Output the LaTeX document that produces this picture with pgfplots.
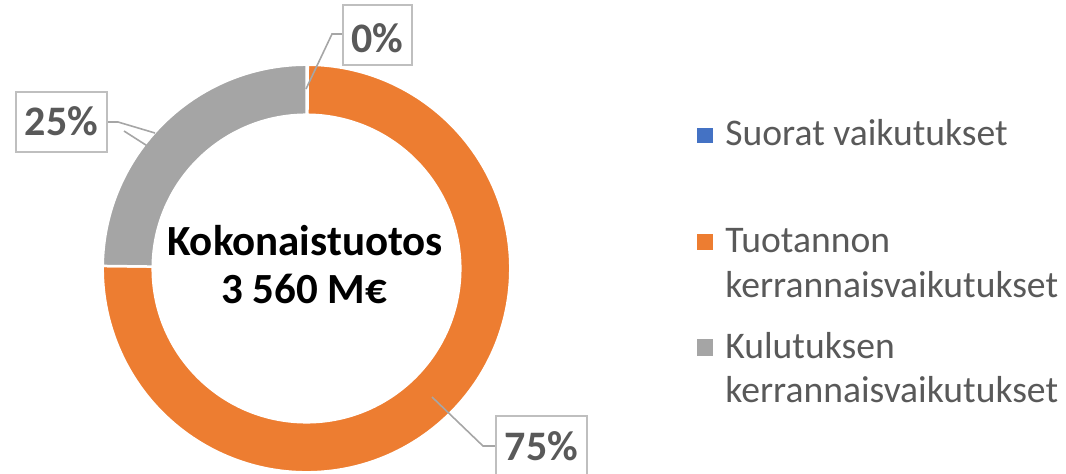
\documentclass[border=0pt]{standalone}
\usepackage{pgfplots}
\pgfplotsset{compat=1.18}
\usepackage{pgfplotstable}
\usepackage{fontspec}
\setmainfont{Carlito}
\definecolor{cblue}{HTML}{4472C4}
\definecolor{corange}{HTML}{ED7D31}
\definecolor{cgray}{HTML}{A5A5A5}
\definecolor{ctext}{HTML}{595959}
\definecolor{cbox}{HTML}{BFBFBF}
\definecolor{cline}{HTML}{A6A6A6}

% shares of the total output (per cent)
\pgfplotstableread{
idx share
0 0.1
1 75.1
2 24.8
}\donutdata
\pgfplotstablegetelem{0}{share}\of\donutdata\let\vA\pgfplotsretval
\pgfplotstablegetelem{1}{share}\of\donutdata\let\vB\pgfplotsretval
\pgfplotstablegetelem{2}{share}\of\donutdata\let\vC\pgfplotsretval
\pgfmathsetmacro\aA{90}
\pgfmathsetmacro\aB{\aA-3.6*\vA}
\pgfmathsetmacro\aC{\aB-3.6*\vB}
\pgfmathsetmacro\aD{\aC-3.6*\vC}
\def\Ro{101.9pt}
\def\Ri{76.9pt}
\newcommand\slice[3]{%
  \fill[#3, draw=white, line width=1.25pt]
    ([shift={(#1:\Ro)}]axis cs:306.5,204.5) arc[start angle=#1, end angle=#2, radius=\Ro]
    -- ([shift={(#2:\Ri)}]axis cs:306.5,204.5) arc[start angle=#2, end angle=#1, radius=\Ri] -- cycle;}

\begin{document}
\begin{tikzpicture}
\useasboundingbox (0,0) rectangle (533pt,236.5pt);
\begin{axis}[
  at={(0,0)}, anchor=south west,
  width=533pt, height=236.5pt, scale only axis,
  xmin=0, xmax=1066, ymin=0, ymax=473,
  hide axis, clip=false,
]
\slice{\aA}{\aB}{cblue}
\slice{\aB}{\aC}{corange}
\slice{\aC}{\aD}{cgray}

% centre text
\node[anchor=base, font=\bfseries\fontsize{21.5}{24}\selectfont] at (axis cs:305,218) {Kokonaistuotos};
\node[anchor=base, font=\bfseries\fontsize{21.5}{24}\selectfont] at (axis cs:304,170) {3 560 M€};

% leader lines
\draw[cline, line width=0.8pt] (axis cs:306,384) -- (axis cs:332,439) -- (axis cs:343,439);
\draw[cline, line width=0.8pt] (axis cs:107,351) -- (axis cs:118,351) -- (axis cs:155,340);
\draw[cline, line width=0.8pt] (axis cs:124,342) -- (axis cs:149,326);
\draw[cline, line width=0.8pt] (axis cs:432,76) -- (axis cs:483,27) -- (axis cs:496,27);

% data labels
\draw[cbox, line width=1pt, fill=white] (axis cs:343,408) rectangle (axis cs:412,468);
\node[anchor=base, text=ctext, font=\bfseries\fontsize{21}{24}\selectfont] at (axis cs:377.5,421) {0\%};
\draw[cbox, line width=1pt, fill=white] (axis cs:16,321) rectangle (axis cs:107,381);
\node[anchor=base, text=ctext, font=\bfseries\fontsize{21}{24}\selectfont] at (axis cs:61.5,338) {25\%};
\draw[cbox, line width=1pt, fill=white] (axis cs:496,-3) rectangle (axis cs:587,57);
\node[anchor=base, text=ctext, font=\bfseries\fontsize{21}{24}\selectfont] at (axis cs:541.5,13) {75\%};

% legend
\fill[cblue] (axis cs:697,330) rectangle (axis cs:713,345);
\node[anchor=base west, inner sep=0pt, text=ctext, font=\fontsize{18.8}{21}\selectfont] at (axis cs:725,328) {Suorat vaikutukset};
\fill[corange] (axis cs:697,223) rectangle (axis cs:713,239);
\node[anchor=base west, inner sep=0pt, text=ctext, font=\fontsize{18.8}{21}\selectfont] at (axis cs:725,221) {Tuotannon};
\node[anchor=base west, inner sep=0pt, text=ctext, font=\fontsize{18.8}{21}\selectfont] at (axis cs:725,176) {kerrannaisvaikutukset};
\fill[cgray] (axis cs:697,117) rectangle (axis cs:713,134);
\node[anchor=base west, inner sep=0pt, text=ctext, font=\fontsize{18.8}{21}\selectfont] at (axis cs:725,115) {Kulutuksen};
\node[anchor=base west, inner sep=0pt, text=ctext, font=\fontsize{18.8}{21}\selectfont] at (axis cs:725,71) {kerrannaisvaikutukset};
\end{axis}
\end{tikzpicture}
\end{document}
